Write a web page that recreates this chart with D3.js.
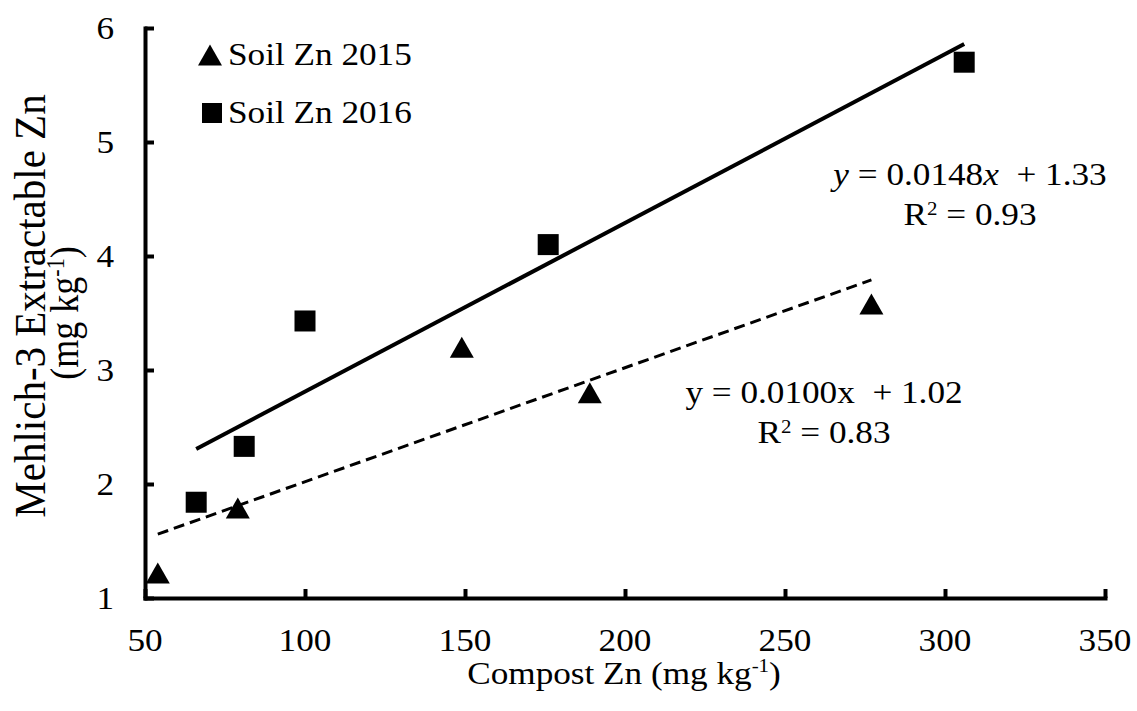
<!DOCTYPE html>
<html>
<head>
<meta charset="utf-8">
<script src="https://cdn.jsdelivr.net/npm/d3@7"></script>
<style>
  html, body { margin: 0; padding: 0; background: #fff; }
  svg { display: block; }
</style>
</head>
<body>
<svg id="chart" width="1137" height="711"></svg>
<script>
// Compost Zn (mg/kg) vs. Mehlich-3 extractable soil Zn (mg/kg)
const compost2015 = [54, 79, 149, 189, 277];
const soil2015    = [1.22, 1.79, 3.20, 2.80, 3.58];
const compost2016 = [66, 81, 100, 176, 306];
const soil2016    = [1.84, 2.33, 3.43, 4.10, 5.70];

// Linear fits as reported on the chart
const fit2015 = { slope: 0.0100, intercept: 1.02, r2: 0.83 };
const fit2016 = { slope: 0.0148, intercept: 1.33, r2: 0.93 };

const xTicks = [50, 100, 150, 200, 250, 300, 350];
const yTicks = [1, 2, 3, 4, 5, 6];

const FONT = "'Liberation Serif', Tinos, 'Times New Roman', Times, serif";
const svg = d3.select("#chart").attr("font-family", FONT);
const x = d3.scaleLinear().domain([50, 350]).range([145, 1105]);
const y = d3.scaleLinear().domain([1, 6]).range([598, 28]);
const SX = 1.1; // horizontal stretch of the lettering

// Trend lines, spanning each series' x range
function trend(fit, xs) {
  const lo = d3.min(xs), hi = d3.max(xs);
  return [[lo, fit.slope * lo + fit.intercept], [hi, fit.slope * hi + fit.intercept]];
}
const line = d3.line().x(d => x(d[0])).y(d => y(d[1]));
svg.append("path").datum(trend(fit2016, compost2016))
  .attr("d", line).attr("fill", "none").attr("stroke", "#000").attr("stroke-width", 4);
svg.append("path").datum(trend(fit2015, compost2015))
  .attr("d", line).attr("fill", "none").attr("stroke", "#000")
  .attr("stroke-width", 3).attr("stroke-dasharray", "11,6");

// Axes: ticks drawn inward
const xAxis = d3.axisBottom(x).tickValues(xTicks).tickSizeInner(-9).tickSizeOuter(0).tickFormat("");
const yAxis = d3.axisLeft(y).tickValues(yTicks).tickSizeInner(-9).tickSizeOuter(0).tickFormat("");
const gx = svg.append("g").attr("transform", `translate(0,${y(1)})`).call(xAxis);
const gy = svg.append("g").attr("transform", `translate(${x(50)},0)`).call(yAxis);
[gx, gy].forEach(g => {
  g.attr("font-family", FONT);
  g.selectAll("path.domain").attr("stroke", "#000").attr("stroke-width", 4).attr("stroke-linecap", "square");
  g.selectAll(".tick line").attr("stroke", "#000").attr("stroke-width", 4);
});

function txt(sel) { return sel.append("text").attr("font-family", FONT).attr("fill", "#000"); }

// Tick labels
xTicks.forEach(v => {
  txt(svg).attr("transform", `translate(${x(v)},651) scale(${SX},1)`)
    .attr("text-anchor", "middle").attr("font-size", 32).text(v);
});
yTicks.forEach(v => {
  txt(svg).attr("transform", `translate(114,${y(v) + 11}) scale(${SX},1)`)
    .attr("text-anchor", "end").attr("font-size", 32).text(v);
});

// Markers
const triW = 24, triH = 21, sq = 21;
const triPath = `M0,${-triH / 2}L${triW / 2},${triH / 2}L${-triW / 2},${triH / 2}Z`;
svg.append("g").selectAll("path").data(d3.zip(compost2015, soil2015)).join("path")
  .attr("d", triPath).attr("fill", "#000")
  .attr("transform", d => `translate(${x(d[0])},${y(d[1])})`);
svg.append("g").selectAll("rect").data(d3.zip(compost2016, soil2016)).join("rect")
  .attr("x", d => x(d[0]) - sq / 2).attr("y", d => y(d[1]) - sq / 2)
  .attr("width", sq).attr("height", sq).attr("fill", "#000");

// Legend
svg.append("path").attr("d", triPath).attr("fill", "#000").attr("transform", "translate(210,55)");
svg.append("rect").attr("x", 202).attr("y", 103).attr("width", 20).attr("height", 20).attr("fill", "#000");
[["Soil Zn 2015", 65], ["Soil Zn 2016", 123]].forEach(([t, by]) => {
  txt(svg).attr("transform", `translate(228,${by}) scale(${SX},1)`)
    .attr("font-size", 32).text(t);
});

// Equation labels
function equation(cx, by, fit, italic) {
  const t = txt(svg).attr("transform", `translate(${cx},${by}) scale(${SX},1)`)
    .attr("text-anchor", "middle").attr("font-size", 32).attr("xml:space", "preserve");
  t.append("tspan").attr("font-style", italic ? "italic" : null).text("y");
  t.append("tspan").text(" = " + fit.slope.toFixed(4));
  t.append("tspan").attr("font-style", italic ? "italic" : null).text("x");
  t.append("tspan").text("  + " + fit.intercept.toFixed(2));
  const r = txt(svg).attr("transform", `translate(${cx},${by + 40}) scale(${SX},1)`)
    .attr("text-anchor", "middle").attr("font-size", 32);
  r.append("tspan").text("R");
  r.append("tspan").attr("font-size", 19).attr("dy", -10).text("2");
  r.append("tspan").attr("dy", 10).text(" = " + fit.r2.toFixed(2));
}
equation(970, 185, fit2016, true);
equation(824, 403, fit2015, false);

// Axis titles
const xt = txt(svg).attr("transform", `translate(624,684) scale(${SX},1)`)
  .attr("text-anchor", "middle").attr("font-size", 32);
xt.append("tspan").text("Compost Zn (mg kg");
xt.append("tspan").attr("font-size", 19).attr("dy", -12).text("-1");
xt.append("tspan").attr("dy", 12).text(")");

txt(svg).attr("transform", `translate(45,306) scale(${SX},1) rotate(-90)`)
  .attr("text-anchor", "middle").attr("font-size", 41).text("Mehlich-3 Extractable Zn");
const yt2 = txt(svg).attr("transform", `translate(78,313) scale(${SX},1) rotate(-90)`)
  .attr("text-anchor", "middle").attr("font-size", 36);
yt2.append("tspan").text("(mg kg");
yt2.append("tspan").attr("font-size", 22).attr("dy", -13).text("-1");
yt2.append("tspan").attr("dy", 13).text(")");
</script>
</body>
</html>
